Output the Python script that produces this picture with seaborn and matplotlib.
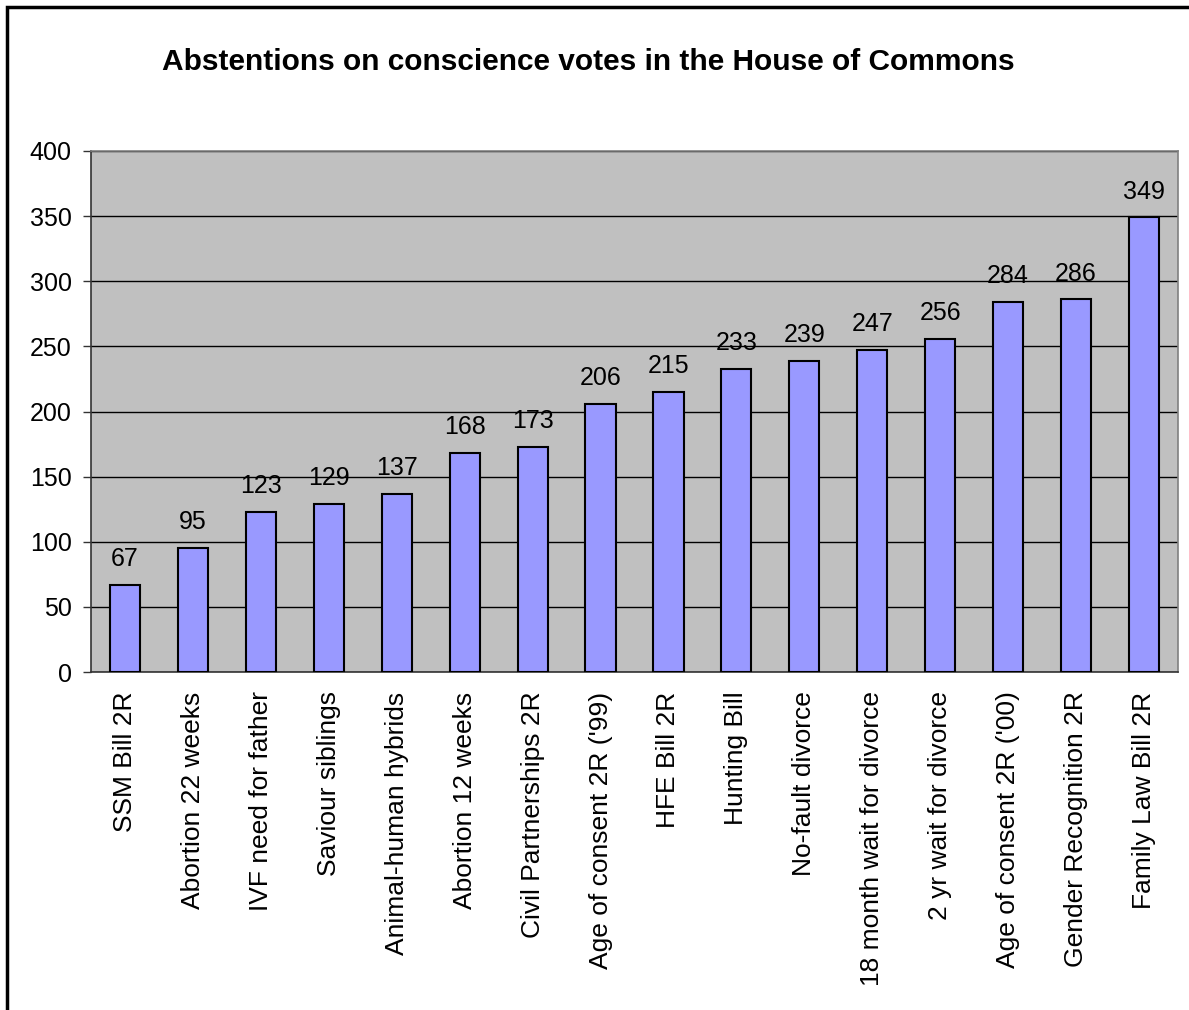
import matplotlib
matplotlib.use("Agg")
import matplotlib.pyplot as plt
import seaborn as sns
import pandas as pd
from matplotlib.patches import Rectangle

categories = ["SSM Bill 2R", "Abortion 22 weeks", "IVF need for father", "Saviour siblings",
              "Animal-human hybrids", "Abortion 12 weeks", "Civil Partnerships 2R",
              "Age of consent 2R ('99)", "HFE Bill 2R", "Hunting Bill", "No-fault divorce",
              "18 month wait for divorce", "2 yr wait for divorce", "Age of consent 2R ('00)",
              "Gender Recognition 2R", "Family Law Bill 2R"]
values = [67, 95, 123, 129, 137, 168, 173, 206, 215, 233, 239, 247, 256, 284, 286, 349]
yticks = [0, 50, 100, 150, 200, 250, 300, 350, 400]
title = "Abstentions on conscience votes in the House of Commons"

sns.set_theme(style="white")
plt.rcParams['font.family'] = ['Liberation Sans', 'DejaVu Sans']
plt.rcParams['text.color'] = 'black'
plt.rcParams['xtick.color'] = 'black'
plt.rcParams['ytick.color'] = 'black'
plt.rcParams['xtick.labelcolor'] = 'black'
plt.rcParams['ytick.labelcolor'] = 'black'

W, H = 1189, 1010
fig = plt.figure(figsize=(W/100, H/100), dpi=100)
ax = fig.add_axes([91/W, 1-672/H, (1178-91)/W, (672-151)/H])

df = pd.DataFrame({"cat": categories, "val": values})
sns.barplot(data=df, x="cat", y="val", ax=ax, color="#9999FF", saturation=1,
            width=0.444, edgecolor="black", linewidth=1.5, zorder=3)

ax.set_facecolor("#C0C0C0")
ax.set_ylim(0, 400)
ax.set_xlim(-0.5, len(categories)-0.5)
ax.set_yticks(yticks)
ax.set_yticklabels([str(t) for t in yticks], fontsize=18)
ax.yaxis.grid(True, color="black", linewidth=1, zorder=1)
ax.set_axisbelow(True)
ax.set_xlabel("")
ax.set_ylabel("")
ax.set_xticks(range(len(categories)))
ax.set_xticklabels(categories, rotation=90, fontsize=19)
ax.tick_params(axis='x', length=0, pad=14)
ax.set_xticks([i - 0.5 for i in range(len(categories)+1)], minor=True)
ax.tick_params(axis='x', which='minor', length=6, width=1, color="#333333", direction='out')
ax.tick_params(axis='y', length=6, width=1, color="#333333", direction='out', pad=8, left=True)

for s in ["top", "right"]:
    ax.spines[s].set_color("#808080")
    ax.spines[s].set_linewidth(1.2)
for s in ["left", "bottom"]:
    ax.spines[s].set_color("#333333")
    ax.spines[s].set_linewidth(1.2)

for c in ax.containers:
    ax.bar_label(c, labels=[str(v) for v in values], padding=10, fontsize=18, color="black")

fig.text(588/W, 1-62/H, title, ha="center", va="center", fontsize=21.5, fontweight="bold")

fig.patches.append(Rectangle((7/W, -0.05), 1.1, 1-7/H+0.05, transform=fig.transFigure,
                             fill=False, edgecolor="black", linewidth=2.5))

fig.savefig("out.png", dpi=100, facecolor="white")
